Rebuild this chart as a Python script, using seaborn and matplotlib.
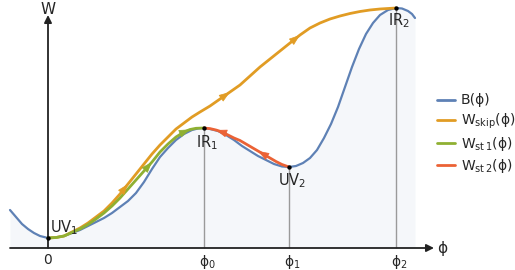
import matplotlib
matplotlib.use("Agg")
import matplotlib.pyplot as plt
import seaborn as sns

# ---- data (phi, W) ----
b_phi = [-0.38, -0.32, -0.26, -0.20, -0.14, -0.08,
         0.00, 0.08, 0.16, 0.24, 0.32, 0.40, 0.48, 0.56,
         0.64, 0.72, 0.80, 0.88, 0.96, 1.04, 1.12, 1.20,
         1.28, 1.36, 1.44, 1.50, 1.56, 1.62, 1.70, 1.78,
         1.86, 1.94, 2.02, 2.10, 2.18, 2.26, 2.34, 2.41,
         2.48, 2.55, 2.62, 2.69, 2.76, 2.83, 2.90, 2.97,
         3.04, 3.11, 3.18, 3.25, 3.32, 3.40, 3.48, 3.54,
         3.60, 3.64, 3.67]
b_W = [0.38, 0.31, 0.24, 0.19, 0.15, 0.12,
       0.10, 0.105, 0.12, 0.15, 0.18, 0.22, 0.26, 0.30,
       0.35, 0.41, 0.47, 0.55, 0.66, 0.79, 0.91, 1.00,
       1.08, 1.14, 1.18, 1.195, 1.20, 1.19, 1.17, 1.13,
       1.08, 1.02, 0.97, 0.92, 0.88, 0.84, 0.815, 0.81,
       0.82, 0.85, 0.90, 0.98, 1.10, 1.24, 1.41, 1.61,
       1.81, 1.99, 2.14, 2.25, 2.33, 2.38, 2.40, 2.395,
       2.37, 2.34, 2.30]

skip_phi = [0.00, 0.08, 0.16, 0.24, 0.32, 0.40, 0.48, 0.56, 0.64, 0.72,
            0.80, 0.88, 0.96, 1.04, 1.12, 1.20, 1.28, 1.36, 1.44, 1.52,
            1.62, 1.72, 1.82, 1.92, 2.02, 2.12, 2.22, 2.32, 2.42, 2.52,
            2.62, 2.72, 2.82, 2.92, 3.02, 3.12, 3.22, 3.32, 3.40, 3.48]
skip_W = [0.10, 0.105, 0.12, 0.16, 0.20, 0.25, 0.31, 0.37, 0.45, 0.54,
          0.64, 0.74, 0.84, 0.94, 1.03, 1.11, 1.19, 1.25, 1.31, 1.36,
          1.42, 1.49, 1.56, 1.63, 1.72, 1.81, 1.89, 1.97, 2.05, 2.13,
          2.20, 2.25, 2.29, 2.32, 2.345, 2.365, 2.38, 2.39, 2.395, 2.40]

st1_phi = [0.00, 0.08, 0.16, 0.24, 0.32, 0.40, 0.48, 0.56, 0.64, 0.72,
           0.80, 0.88, 0.96, 1.04, 1.12, 1.20, 1.28, 1.36, 1.42, 1.48, 1.56]
st1_W = [0.10, 0.105, 0.12, 0.155, 0.19, 0.235, 0.29, 0.35, 0.42, 0.50,
         0.59, 0.68, 0.77, 0.86, 0.96, 1.04, 1.11, 1.16, 1.185, 1.197, 1.20]

st2_phi = [1.56, 1.62, 1.68, 1.74, 1.80, 1.86, 1.92, 1.98,
           2.04, 2.10, 2.16, 2.22, 2.28, 2.34, 2.41]
st2_W = [1.20, 1.194, 1.18, 1.16, 1.13, 1.10, 1.075, 1.04,
         1.005, 0.97, 0.935, 0.90, 0.865, 0.835, 0.81]

crit_phi = [0.00, 1.56, 2.41, 3.48]
crit_W = [0.10, 1.20, 0.81, 2.40]
crit_names = ["UV$_1$", "IR$_1$", "UV$_2$", "IR$_2$"]
tick_names = ["0", "ϕ$_0$", "ϕ$_1$", "ϕ$_2$"]

# Mathematica-like default colours
C_B, C_SKIP, C_ST1, C_ST2 = "#5E81B5", "#E19C24", "#8FB032", "#EB6235"

sns.set_theme(style="white")
plt.rcParams["font.family"] = ["DejaVu Sans"]
plt.rcParams["mathtext.fontset"] = "dejavusans"
plt.rcParams["mathtext.default"] = "regular"

fig = plt.figure(figsize=(5.15, 2.70), dpi=100)
ax = fig.add_axes([0, 0, 1, 1])
ax.set_xlim(-0.48, 4.67)
ax.set_ylim(-0.22, 2.48)
ax.axis("off")

# light fill under the potential
ax.fill_between(b_phi, b_W, 0, color=C_B, alpha=0.06, lw=0)

# guide lines at the critical points
ax.vlines(crit_phi[1:], 0, crit_W[1:], color="#9a9a9a", lw=1.0)

kw = dict(ax=ax, sort=False, solid_joinstyle="round", solid_capstyle="round")
sns.lineplot(x=b_phi, y=b_W, color=C_B, lw=1.6, label="B(ϕ)", **kw)
sns.lineplot(x=skip_phi, y=skip_W, color=C_SKIP, lw=2.0,
             label="W$_{skip}$(ϕ)", **kw)
sns.lineplot(x=st1_phi, y=st1_W, color=C_ST1, lw=2.0,
             label="W$_{st\\,1}$(ϕ)", **kw)
sns.lineplot(x=st2_phi, y=st2_W, color=C_ST2, lw=2.0,
             label="W$_{st\\,2}$(ϕ)", **kw)


def head(xs, ys, i_from, i_to, color):
    ax.annotate("", xy=(xs[i_to], ys[i_to]), xytext=(xs[i_from], ys[i_from]),
                arrowprops=dict(arrowstyle="-|>,head_length=0.7,head_width=0.25",
                                color=color, lw=0.5, mutation_scale=10,
                                shrinkA=0, shrinkB=0),
                zorder=4)


for i in (10, 22, 29):
    head(skip_phi, skip_W, i - 1, i, C_SKIP)
for i in (13, 18):
    head(st1_phi, st1_W, i - 1, i, C_ST1)
head(st2_phi, st2_W, 3, 2, C_ST2)
head(st2_phi, st2_W, 10, 9, C_ST2)

# axes with arrows
ax.annotate("", xy=(3.86, 0), xytext=(-0.38, 0),
            arrowprops=dict(arrowstyle="-|>", color="#222222", lw=1.3,
                            mutation_scale=11, shrinkA=0, shrinkB=0))
ax.annotate("", xy=(0, 2.33), xytext=(0, 0),
            arrowprops=dict(arrowstyle="-|>", color="#222222", lw=1.3,
                            mutation_scale=11, shrinkA=0, shrinkB=0))
ax.text(0, 2.34, "W", ha="center", va="baseline", fontsize=11)
ax.text(3.89, 0, "ϕ", ha="left", va="center", fontsize=11)

ax.scatter(crit_phi, crit_W, s=10, color="black", zorder=5, lw=0)

# point labels
ax.text(crit_phi[0] + 0.02, crit_W[0] + 0.06, crit_names[0], ha="left",
        va="baseline", fontsize=10.5)
ax.text(crit_phi[1] + 0.03, crit_W[1] - 0.19, crit_names[1], ha="center",
        va="baseline", fontsize=10.5)
ax.text(crit_phi[2] + 0.03, crit_W[2] - 0.18, crit_names[2], ha="center",
        va="baseline", fontsize=10.5)
ax.text(crit_phi[3] + 0.03, crit_W[3] - 0.17, crit_names[3], ha="center",
        va="baseline", fontsize=10.5)

# tick labels
for x, t in zip(crit_phi, tick_names):
    dx = 0 if t == "0" else 0.03
    ax.text(x + dx, -0.05, t, ha="center", va="top", fontsize=10)

leg = ax.legend(loc="upper left", bbox_to_anchor=(0.848, 0.654), frameon=False,
                fontsize=10, handlelength=1.3, handletextpad=0.45,
                labelspacing=0.3, borderpad=0, borderaxespad=0)
for line in leg.get_lines():
    line.set_linewidth(2.0)

fig.savefig("out.png", dpi=100)
